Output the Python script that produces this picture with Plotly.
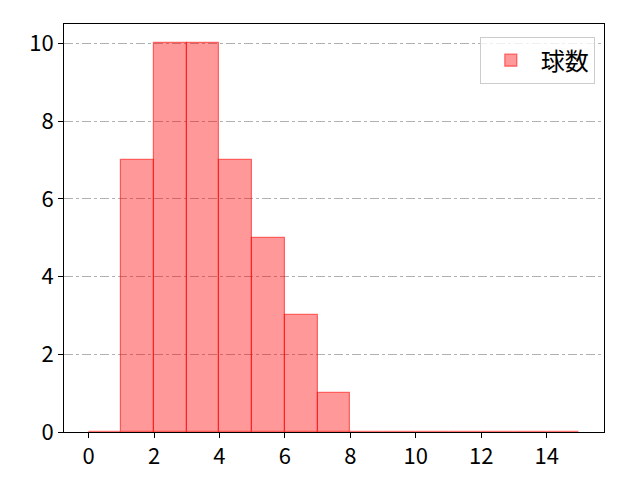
import plotly.graph_objects as go

# ヒストグラムの各ビン (左端) と度数
bin_left = list(range(0, 15))
counts = [0, 7, 10, 10, 7, 5, 3, 1, 0, 0, 0, 0, 0, 0, 0]
series_name = "球数"
x_ticks = [0, 2, 4, 6, 8, 10, 12, 14]
y_ticks = [0, 2, 4, 6, 8, 10]

centers = [b + 0.5 for b in bin_left]

fig = go.Figure()
fig.add_trace(go.Bar(
    x=centers, y=counts, width=1, name=series_name,
    marker=dict(color="rgba(255,0,0,0.4)",
                line=dict(color="rgba(255,0,0,0.55)", width=1.2)),
    showlegend=True,
))

# ページ本体の余白 (約8px) を差し引いたマージン
fig.update_layout(
    width=640, height=480,
    margin=dict(l=56, r=44, t=16, b=56),
    paper_bgcolor="white", plot_bgcolor="white",
    font=dict(family="Noto Sans CJK JP", size=22, color="black"),
    bargap=0,
    legend=dict(x=0.983, y=0.968, xanchor="right", yanchor="top",
                bordercolor="#cccccc", borderwidth=1, bgcolor="rgba(255,255,255,0.8)",
                font=dict(size=24), itemwidth=50),
)
fig.update_xaxes(range=[-0.75, 15.75], tickvals=x_ticks, showgrid=False,
                 showline=True, linecolor="black", linewidth=1, mirror=True,
                 ticks="outside", ticklen=5, tickcolor="black", zeroline=False)
fig.update_yaxes(range=[0, 10.5], tickvals=y_ticks, showgrid=True,
                 gridcolor="#b0b0b0", griddash="dashdot", gridwidth=1,
                 showline=True, linecolor="black", linewidth=1, mirror=True,
                 ticks="outside", ticklen=5, tickcolor="black", zeroline=False)

fig.write_html("out.html")
